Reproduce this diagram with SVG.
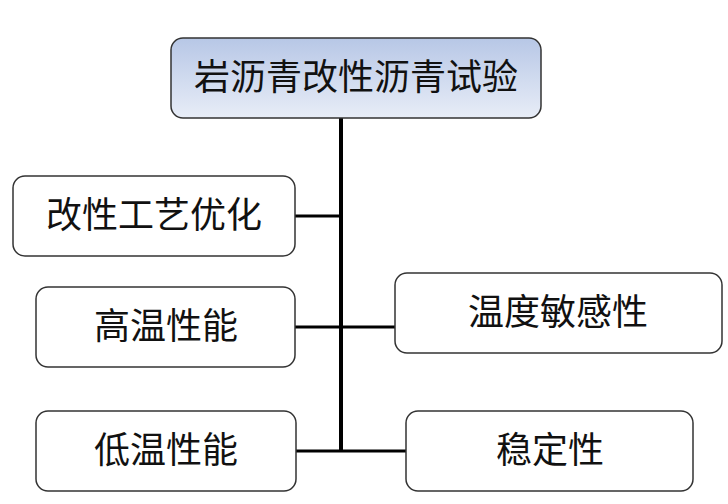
<svg xmlns="http://www.w3.org/2000/svg" width="728" height="504" viewBox="0 0 728 504">
<defs>
<linearGradient id="g" x1="0" y1="0" x2="0" y2="1">
<stop offset="0" stop-color="#b7c7e6"/>
<stop offset="1" stop-color="#e8edf7"/>
</linearGradient>
<style>
.box{fill:#fff;stroke:#333;stroke-width:1.5}
.t{font-family:"Liberation Serif","Noto Sans CJK SC",serif;font-size:36px;fill:#111;text-anchor:middle;dominant-baseline:central}
.c{stroke:#000;fill:none}
</style>
</defs>
<rect width="728" height="504" fill="#fff"/>
<g id="connectors">
<line class="c" x1="341" y1="118" x2="341" y2="452" stroke-width="4"/>
<line class="c" x1="295" y1="216" x2="341" y2="216" stroke-width="3"/>
<line class="c" x1="295" y1="327" x2="395" y2="327" stroke-width="3"/>
<line class="c" x1="296" y1="451" x2="406" y2="451" stroke-width="3"/>
</g>
<g id="root">
<rect x="171" y="38" width="370" height="80" rx="12" fill="url(#g)" stroke="#333" stroke-width="1.5"/>
<text class="t" x="356" y="78">岩沥青改性沥青试验</text>
</g>
<g id="n1">
<rect class="box" x="13" y="176" width="282" height="80" rx="12"/>
<text class="t" x="154" y="216">改性工艺优化</text>
</g>
<g id="n2">
<rect class="box" x="36" y="287" width="259" height="80" rx="12"/>
<text class="t" x="166" y="327">高温性能</text>
</g>
<g id="n3">
<rect class="box" x="395" y="273" width="327" height="80" rx="12"/>
<text class="t" x="558" y="313">温度敏感性</text>
</g>
<g id="n4">
<rect class="box" x="36" y="411" width="260" height="80" rx="12"/>
<text class="t" x="166" y="451">低温性能</text>
</g>
<g id="n5">
<rect class="box" x="406" y="411" width="287" height="80" rx="12"/>
<text class="t" x="550" y="451">稳定性</text>
</g>
</svg>
